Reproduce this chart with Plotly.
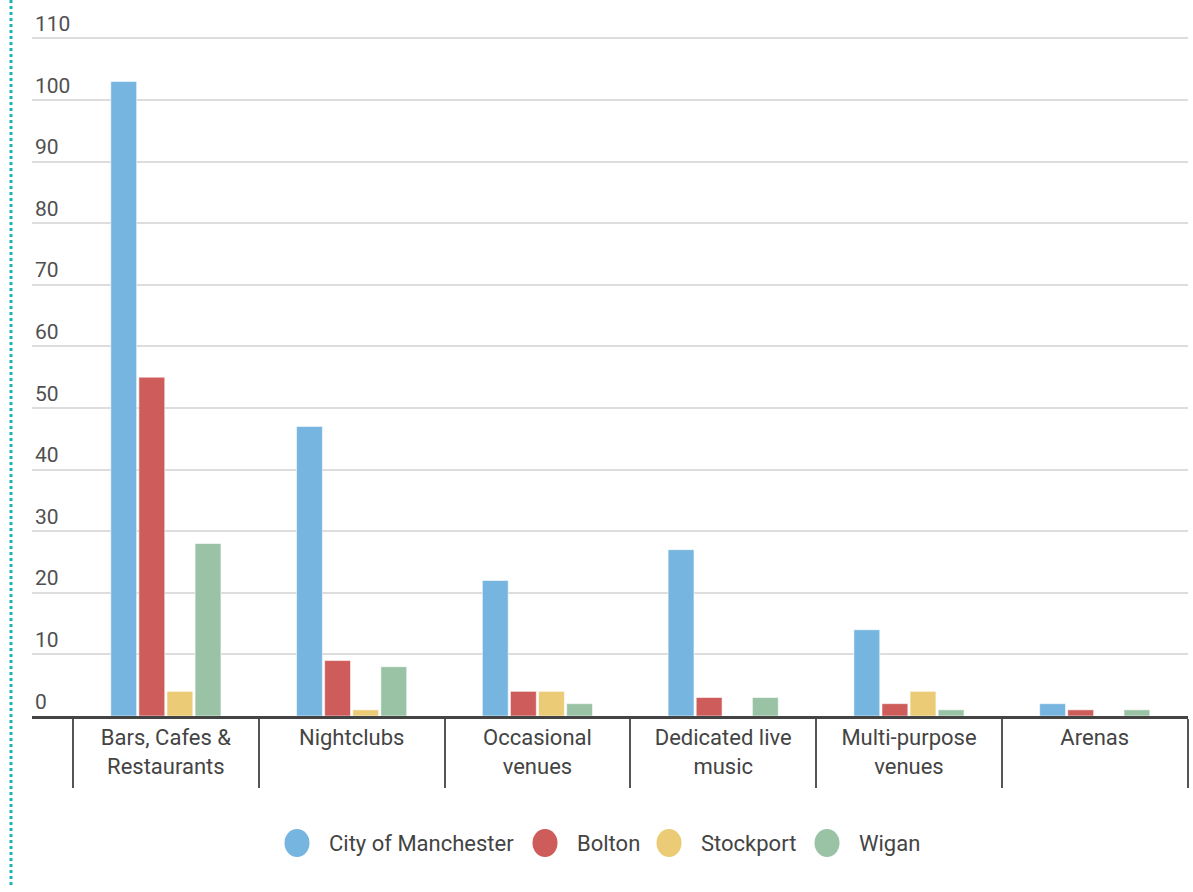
import plotly.graph_objects as go

# Venue counts by type and borough
categories = ["Bars, Cafes &<br>Restaurants", "Nightclubs", "Occasional<br>venues",
              "Dedicated live<br>music", "Multi-purpose<br>venues", "Arenas"]
manchester = [103, 47, 22, 27, 14, 2]
bolton = [55, 9, 4, 3, 2, 1]
stockport = [4, 1, 4, 0, 4, 0]
wigan = [28, 8, 2, 3, 1, 1]

series_names = ["City of Manchester", "Bolton", "Stockport", "Wigan"]
series_values = [manchester, bolton, stockport, wigan]
colors = ["#76B5E0", "#CD5C5A", "#EBCB76", "#9AC3A6"]

y_ticks = list(range(0, 111, 10))

W, H = 1193, 892
ML, MR, MT, MB = 32, 5, 10, 176

fig = go.Figure()
for name, vals, col in zip(series_names, series_values, colors):
    fig.add_trace(go.Bar(
        x=categories, y=vals, name=name,
        marker=dict(color=col, line=dict(color="rgba(255,255,255,0.55)", width=1)),
        showlegend=False,
    ))

fig.update_layout(
    width=W, height=H,
    margin=dict(l=ML, r=MR, t=MT, b=MB),
    paper_bgcolor="white", plot_bgcolor="white",
    barmode="group", bargap=0.395, bargroupgap=0.08,
    font=dict(family="Roboto", size=20, color="#444444"),
)

fig.update_xaxes(
    type="category", range=[-0.7206, 5.502],
    tickson="boundaries", ticks="outside", ticklen=69, tickwidth=2, tickcolor="#555555",
    showline=True, linecolor="#444444", linewidth=3,
    showgrid=False, zeroline=False,
    tickfont=dict(family="Roboto", size=22, color="#444444"),
)

fig.update_yaxes(
    range=[0, 114.6], tickvals=y_ticks, ticktext=[str(v) for v in y_ticks],
    ticklabelposition="inside top", ticks="",
    showgrid=True, gridcolor="#DDDDDD", gridwidth=2,
    zeroline=False, showline=False,
    tickfont=dict(family="Roboto", size=21, color="#505050"),
)

# Teal dotted frame edge on the left
plot_w = W - ML - MR
plot_h = H - MT - MB
fig.add_shape(type="line", xref="paper", yref="paper",
              x0=(11 - ML) / plot_w, x1=(11 - ML) / plot_w,
              y0=-(MB - 7) / plot_h, y1=1 + MT / plot_h,
              line=dict(color="#19B5B8", width=3, dash="dot"))

# Legend: circle swatches with labels
legend_cx = [297, 545, 669, 827]
legend_y = 843
for cx, name, col in zip(legend_cx, series_names, colors):
    px0 = (cx - 12.5 - ML) / plot_w
    px1 = (cx + 12.5 - ML) / plot_w
    py0 = (H - MB - (legend_y + 14)) / plot_h
    py1 = (H - MB - (legend_y - 14)) / plot_h
    fig.add_shape(type="circle", xref="paper", yref="paper",
                  x0=px0, x1=px1, y0=py0, y1=py1,
                  fillcolor=col, line=dict(width=0))
    fig.add_annotation(xref="paper", yref="paper",
                       x=(cx + 30 - ML) / plot_w, y=(H - MB - legend_y) / plot_h,
                       text=name, showarrow=False, xanchor="left", yanchor="middle",
                       font=dict(family="Roboto", size=22, color="#444444"))

fig.write_html("out.html")
